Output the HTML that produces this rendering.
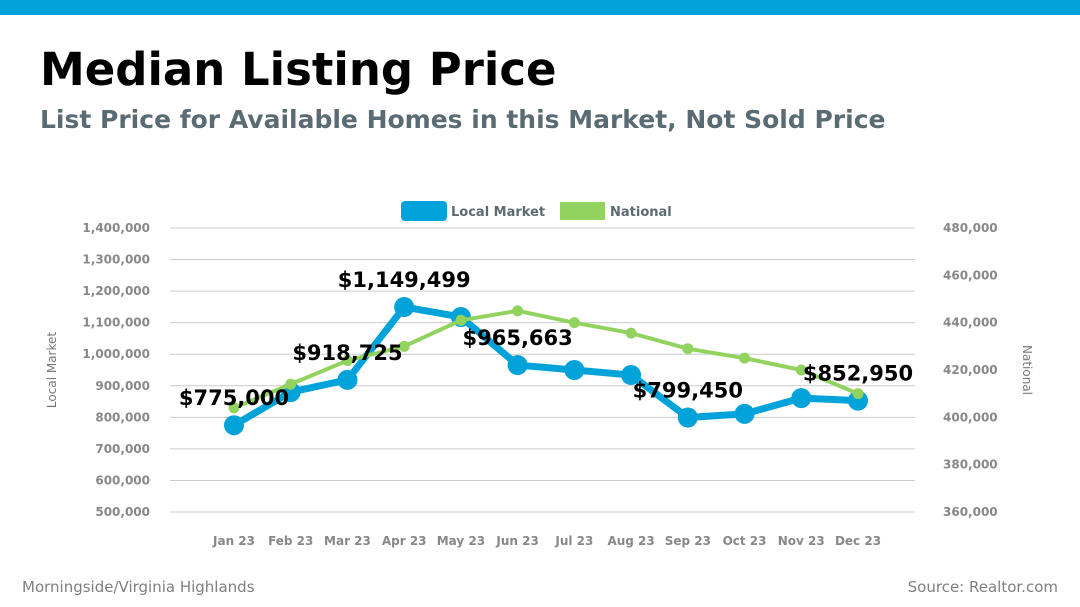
<!DOCTYPE html>
<html><head><meta charset="utf-8"><style>
body{margin:0;width:1080px;height:607px;background:#fff;font-family:"DejaVu Sans","Liberation Sans",sans-serif;overflow:hidden;position:relative}
.bar{position:absolute;left:0;top:0;width:1080px;height:15px;background:#00a3d9}
h1{position:absolute;left:40px;top:43px;margin:0;font-size:45px;font-weight:bold;color:#000}
h2{position:absolute;left:40px;top:105px;margin:0;font-size:25px;font-weight:bold;color:#5b6b73}
.foot{position:absolute;top:578px;font-size:15px;color:#808080}
</style></head><body>
<div class="bar"></div>
<h1>Median Listing Price</h1>
<h2>List Price for Available Homes in this Market, Not Sold Price</h2>
<div class="foot" style="left:22px">Morningside/Virginia Highlands</div>
<div class="foot" style="right:22px">Source: Realtor.com</div>
<svg id="c" width="1080" height="607" style="position:absolute;left:0;top:0"></svg>
<script>
const categories=["Jan 23","Feb 23","Mar 23","Apr 23","May 23","Jun 23","Jul 23","Aug 23","Sep 23","Oct 23","Nov 23","Dec 23"];
const localValues=[775000,880000,918725,1149499,1118000,965663,950000,934000,799450,811000,861000,852950];
const nationalValues=[404000,414000,424000,430000,441000,445000,440000,435600,429000,425000,420000,410000];
const leftTicks=[500000,600000,700000,800000,900000,1000000,1100000,1200000,1300000,1400000];
const rightTicks=[360000,380000,400000,420000,440000,460000,480000];
const labeledIdx=[0,2,3,5,8,11];
const NS="http://www.w3.org/2000/svg",svg=document.getElementById('c');
const plotTop=228,plotBot=512;
const yL=v=>plotBot-(v-500000)/900000*(plotBot-plotTop);
const yR=v=>plotBot-(v-360000)/120000*(plotBot-plotTop);
const x=i=>234+i*(858-234)/11;
function mk(t,a,p){const e=document.createElementNS(NS,t);for(const k in a)e.setAttribute(k,a[k]);(p||svg).appendChild(e);return e;}
leftTicks.forEach(v=>{
 const l=mk('line',{x1:170,x2:915,y1:yL(v),y2:yL(v),stroke:'#cccccc','stroke-width':1});
 
 
 const t=mk('text',{x:150,y:yL(v)+4,'text-anchor':'end','font-size':12,'font-weight':'bold',fill:'#888'});t.textContent=v.toLocaleString('en-US');
 
 
});
rightTicks.forEach(v=>{
 const t=mk('text',{x:943,y:yR(v)+4,'font-size':12,'font-weight':'bold',fill:'#888'});t.textContent=v.toLocaleString('en-US');
 
 
});
categories.forEach((c,i)=>{
 const t=mk('text',{x:x(i),y:545,'text-anchor':'middle','font-size':12,'font-weight':'bold',fill:'#888'});t.textContent=c;
 
 
});
let t=mk('text',{x:0,y:0,transform:'translate(56,370) rotate(-90)','text-anchor':'middle','font-size':12,fill:'#777'});t.textContent='Local Market';


t=mk('text',{x:0,y:0,transform:'translate(1023,370) rotate(90)','text-anchor':'middle','font-size':12,fill:'#777'});t.textContent='National';


let r=mk('rect',{x:401,y:201,width:46,height:20,rx:4,fill:'#00a3d9'});


t=mk('text',{x:451,y:216,'font-size':13,'font-weight':'bold',fill:'#5b6b73'});t.textContent='Local Market';


r=mk('rect',{x:560,y:202,width:45,height:18,fill:'#92d35f'});


t=mk('text',{x:610,y:216,'font-size':13,'font-weight':'bold',fill:'#5b6b73'});t.textContent='National';


let p=mk('polyline',{points:localValues.map((v,i)=>x(i)+','+yL(v)).join(' '),fill:'none',stroke:'#00a3d9','stroke-width':7,'stroke-linejoin':'round'});


localValues.forEach((v,i)=>{
 const c=mk('circle',{cx:x(i),cy:yL(v),r:10,fill:'#00a3d9'});
 
 
});
p=mk('polyline',{points:nationalValues.map((v,i)=>x(i)+','+yR(v)).join(' '),fill:'none',stroke:'#92d35f','stroke-width':4,'stroke-linejoin':'round'});


nationalValues.forEach((v,i)=>{
 const c=mk('circle',{cx:x(i),cy:yR(v),r:5.5,fill:'#92d35f'});
 
 
});
labeledIdx.forEach(i=>{
 const tt=mk('text',{x:x(i),y:yL(localValues[i])-20,'text-anchor':'middle','font-size':21,'font-weight':'bold',fill:'#000'});
 tt.textContent='$'+localValues[i].toLocaleString('en-US');
 
 
});
</script>
</body></html>
